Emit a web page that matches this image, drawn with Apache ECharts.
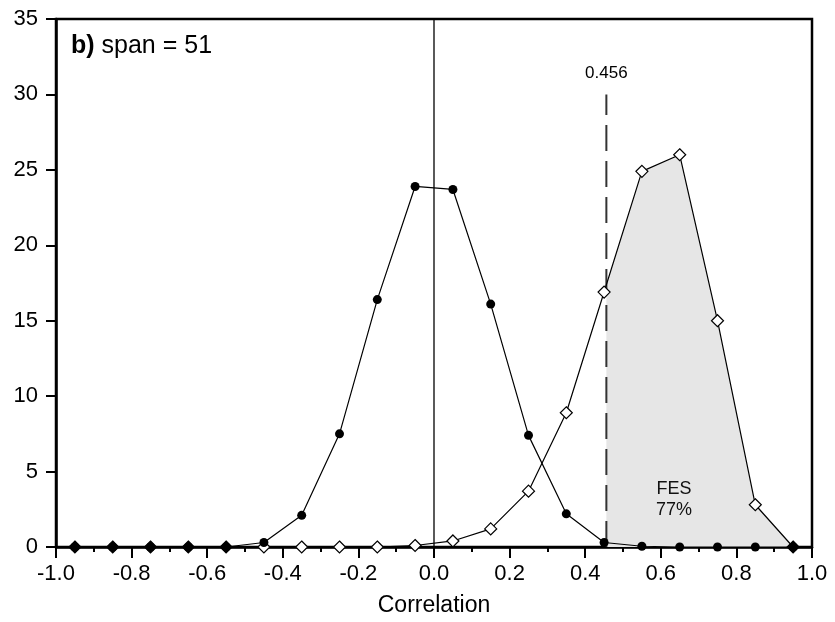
<!DOCTYPE html>
<html><head><meta charset="utf-8">
<script src="https://cdn.jsdelivr.net/npm/echarts@6/dist/echarts.min.js"></script>
<style>html,body{margin:0;padding:0;background:#fff}#c{width:835px;height:622px}</style>
</head><body><div id="c"></div>
<script>
const binCenters = [-0.95,-0.85,-0.75,-0.65,-0.55,-0.45,-0.35,-0.25,-0.15,-0.05,0.05,0.15,0.25,0.35,0.45,0.55,0.65,0.75,0.85,0.95];
const nullFreq   = [0,0,0,0,0,0.3,2.1,7.5,16.4,23.9,23.7,16.1,7.4,2.2,0.3,0.05,0,0,0,0];
const forcedFreq = [0,0,0,0,0,0,0,0,0,0.1,0.4,1.2,3.7,8.9,16.9,24.9,26.0,15.0,2.8,0];
const threshold = 0.456;
const thresholdLabel = '0.456';
const fesLabel = 'FES\n77%';
const xTicks = [-1.0,-0.8,-0.6,-0.4,-0.2,0.0,0.2,0.4,0.6,0.8,1.0];

const FONT = '"Liberation Sans", Arial, Helvetica, sans-serif';

function interpForced(x){
  for(let i=0;i<binCenters.length-1;i++){
    if(x>=binCenters[i] && x<=binCenters[i+1]){
      const t=(x-binCenters[i])/(binCenters[i+1]-binCenters[i]);
      return forcedFreq[i]+t*(forcedFreq[i+1]-forcedFreq[i]);
    }
  }
  return 0;
}
const shade=[[threshold, interpForced(threshold)]];
binCenters.forEach((x,i)=>{ if(x>threshold) shade.push([x,forcedFreq[i]]); });

const nullData = binCenters.map((x,i)=>[x,nullFreq[i]]);
const forcedData = binCenters.map((x,i)=>{
  const both = forcedFreq[i]===0 && nullFreq[i]===0;
  return {value:[x,forcedFreq[i]], itemStyle: both?{color:'#000'}:{color:'#fff'}};
});

const chart = echarts.init(document.getElementById('c'));
chart.setOption({
  animation:false,
  textStyle:{fontFamily:FONT},
  title:{
    text:'{b|b)} span = 51', left:66, top:29,
    textStyle:{fontFamily:FONT,fontSize:25,fontWeight:'normal',color:'#000',
      rich:{b:{fontFamily:FONT,fontSize:25,fontWeight:'bold',color:'#000'}}}
  },
  grid:{left:56,right:23,top:19,bottom:73,show:true,borderColor:'#000',borderWidth:2.5,backgroundColor:'transparent'},
  xAxis:{
    type:'value',min:-1,max:1,interval:0.2,
    name:'Correlation',nameLocation:'middle',nameGap:47,
    nameTextStyle:{fontFamily:FONT,fontSize:23,color:'#000'},
    axisLine:{show:true,onZero:false,lineStyle:{color:'#000',width:2.5}},
    axisTick:{show:true,length:11,lineStyle:{color:'#000',width:2}},
    minorTick:{show:true,splitNumber:2,length:5,lineStyle:{color:'#000',width:2}},
    splitLine:{show:false},
    axisLabel:{fontFamily:FONT,fontSize:22,color:'#000',margin:16,formatter:v=>{
      const t=xTicks.find(k=>Math.abs(k-v)<1e-6); return (t!==undefined?t:v).toFixed(1);}}
  },
  yAxis:{
    type:'value',min:0,max:35,interval:5,
    axisLine:{show:true,onZero:false,lineStyle:{color:'#000',width:2.5}},
    axisTick:{show:true,length:10,lineStyle:{color:'#000',width:2}},
    splitLine:{show:false},
    axisLabel:{fontFamily:FONT,fontSize:22,color:'#000',margin:18}
  },
  series:[
    {type:'line',data:shade,symbol:'none',lineStyle:{width:0},areaStyle:{color:'#e6e6e6',opacity:1},z:1,silent:true},
    {type:'line',data:[[0,0],[0,35]],symbol:'none',lineStyle:{color:'#000',width:1.3},z:2,silent:true},
    {type:'line',data:[[threshold,0],[threshold,30]],symbol:'none',lineStyle:{color:'#333',width:2,type:[26,10]},z:2,silent:true},
    {type:'line',data:forcedData,symbol:'diamond',symbolSize:12,
      lineStyle:{color:'#000',width:1.2},itemStyle:{borderColor:'#000',borderWidth:1.2},z:3},
    {type:'line',data:nullData,symbol:'circle',symbolSize:9,
      lineStyle:{color:'#000',width:1.2},itemStyle:{color:'#000',borderWidth:0},z:4},
    {type:'scatter',symbolSize:0,data:[[threshold,31.4]],silent:true,z:5,itemStyle:{opacity:1},
      label:{show:true,position:'inside',formatter:thresholdLabel,fontFamily:FONT,fontSize:17,color:'#000',textBorderWidth:0}},
    {type:'scatter',symbolSize:0,data:[[0.635,3.15]],silent:true,z:5,itemStyle:{opacity:1},
      label:{show:true,position:'inside',formatter:fesLabel,fontFamily:FONT,fontSize:18,lineHeight:21,color:'#111',textBorderWidth:0,align:'center'}}
  ]
});
</script></body></html>
